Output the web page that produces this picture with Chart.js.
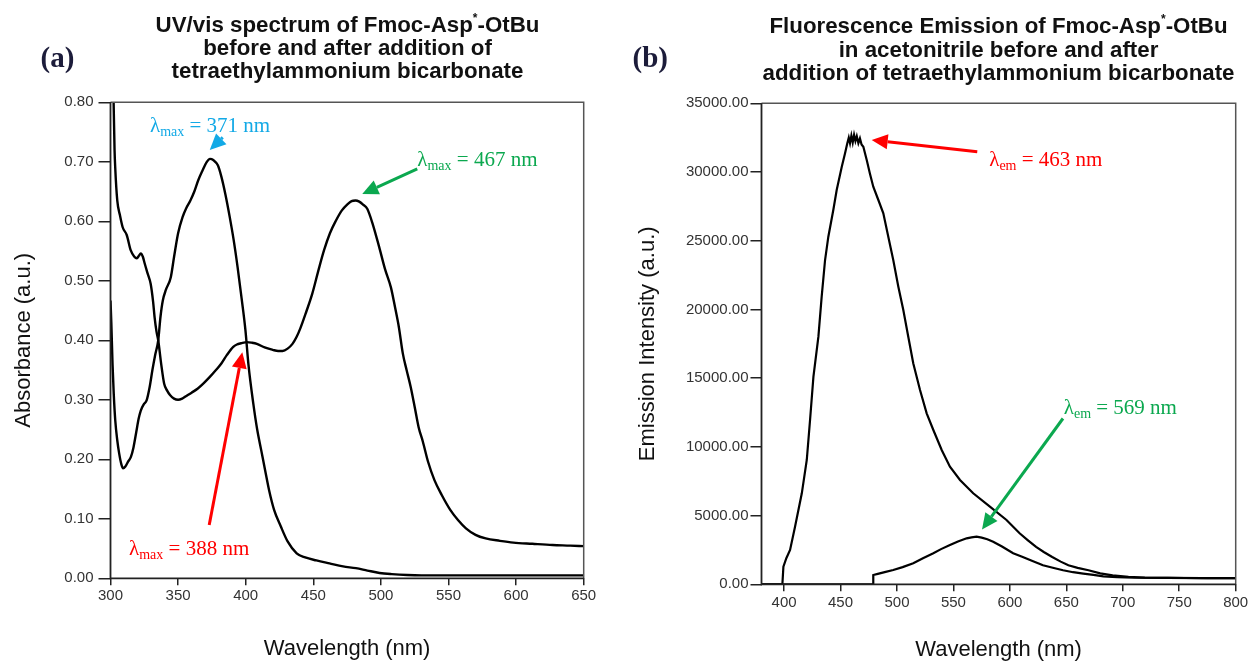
<!DOCTYPE html>
<html>
<head>
<meta charset="utf-8">
<script src="https://cdn.jsdelivr.net/npm/chart.js@4"></script>
<style>
  html, body { margin: 0; padding: 0; background: #fff; }
  body { width: 1252px; height: 663px; position: relative; overflow: hidden; }
  .panel { position: absolute; top: 0; height: 663px; }
  #panelA { left: 0; width: 620px; }
  #panelB { left: 620px; width: 632px; }
</style>
</head>
<body>
<div class="panel" id="panelA"><canvas id="uvChart"></canvas></div>
<div class="panel" id="panelB"><canvas id="flChart"></canvas></div>
<script>
// (a) UV/vis spectrum
const uvXTicks = [300, 350, 400, 450, 500, 550, 600, 650];
const uvYTicks = [0, 0.1, 0.2, 0.3, 0.4, 0.5, 0.6, 0.7, 0.8];

// before addition (peak ~371 nm)
const uvBeforeNm = [300, 300.6, 301.5, 302.4, 303.5, 305, 306.4, 308, 309.3, 311, 313, 315.1, 317, 319, 320.8, 322.4,
  324.5, 326.7, 329, 331, 333, 335.3, 337, 338.7, 341, 344.6, 347, 350, 353.3, 356, 359.1, 362, 364.9, 368, 371,
  373.6, 376, 379.4, 382, 385, 388.2, 391, 394, 397, 399.8, 402, 405.6, 408.5, 411.5, 414.5, 417.3, 421, 426, 431,
  437.7, 444, 452.3, 462, 472, 481.5, 490, 499, 508, 519.5, 530, 560, 600, 650];
const uvBeforeAbs = [0.467, 0.43, 0.36, 0.31, 0.266, 0.232, 0.21, 0.192, 0.185, 0.188, 0.196, 0.204, 0.22, 0.245, 0.268, 0.282,
  0.292, 0.299, 0.322, 0.35, 0.375, 0.40, 0.44, 0.467, 0.485, 0.506, 0.54, 0.58, 0.607, 0.622, 0.635, 0.65, 0.669, 0.685, 0.699,
  0.705, 0.703, 0.694, 0.675, 0.645, 0.607, 0.57, 0.523, 0.47, 0.417, 0.36, 0.294, 0.25, 0.215, 0.18, 0.148, 0.115, 0.087, 0.062,
  0.042, 0.035, 0.030, 0.025, 0.020, 0.017, 0.013, 0.009, 0.007, 0.0055, 0.005, 0.005, 0.005, 0.005];

// after addition (peaks ~388 and ~467 nm)
const uvAfterNm = [301.6, 302.3, 303, 303.5, 305, 307, 309, 312, 315, 317.5, 319.5, 321, 322.4, 324, 325.3, 327.5, 329.7,
  331.5, 332.6, 334, 335.3, 337.5, 339.7, 342, 344, 347, 350, 353, 355.8, 360, 364.6, 369, 373.3, 378, 382, 386, 390.8,
  393.5, 396.6, 401, 404.5, 408.3, 414, 420, 424, 427.3, 431, 434.6, 437.5, 440.4, 444.8, 449.2, 453.5, 457.9, 462.3,
  466.7, 471, 475.4, 478.3, 481.2, 484, 486.8, 489.9, 494, 498.7, 503, 507.4, 510.5, 513.3, 516.2, 519, 522, 525, 527.9,
  531, 535, 539.6, 545, 551.3, 557, 562.9, 570, 577.5, 588, 598, 612, 627, 640, 650];
const uvAfterAbs = [0.95, 0.80, 0.72, 0.69, 0.635, 0.61, 0.59, 0.577, 0.551, 0.541, 0.538, 0.542, 0.546, 0.54, 0.529, 0.512, 0.495,
  0.465, 0.439, 0.415, 0.40, 0.36, 0.327, 0.315, 0.308, 0.302, 0.300, 0.302, 0.306, 0.312, 0.319, 0.328, 0.338, 0.35, 0.361, 0.375, 0.389,
  0.393, 0.395, 0.397, 0.396, 0.394, 0.388, 0.384, 0.382, 0.382, 0.386, 0.394, 0.405, 0.42, 0.448, 0.478, 0.515, 0.551, 0.58,
  0.601, 0.618, 0.629, 0.634, 0.635, 0.633, 0.628, 0.621, 0.595, 0.557, 0.52, 0.489, 0.455, 0.422, 0.378, 0.35, 0.322, 0.288, 0.254,
  0.23, 0.195, 0.165, 0.14, 0.115, 0.098, 0.084, 0.073, 0.067, 0.063, 0.060, 0.058, 0.056, 0.055, 0.054];

// (b) fluorescence emission
const flXTicks = [400, 450, 500, 550, 600, 650, 700, 750, 800];
const flYTicks = [0, 5000, 10000, 15000, 20000, 25000, 30000, 35000];

// before addition (peak ~463 nm)
const flBeforeNm = [380, 398.5, 399.4, 402, 405.3, 409.7, 415.7, 420.1, 423, 426, 430.4, 433.3, 436.3, 439.2, 443.6, 446.6,
  451.1, 454, 456, 457.3, 458.4, 459.6, 460.8, 462, 463.2, 464.4, 465.8, 467.2, 468.6, 470.2, 473.2, 476, 479, 483.5,
  487.9, 492.3, 496.7, 501.2, 505.6, 510, 514.4, 520.4, 526.3, 532.2, 539.6, 546.9, 555.8, 567.5, 582.3, 597, 608.6, 616,
  623.2, 630, 637.5, 645, 651.8, 660, 669.6, 680, 691, 705, 719.5, 740, 755, 775, 800];
const flBeforeInt = [0, 0, 1282, 1900, 2496, 4190, 6620, 9045, 11955, 15106, 18017, 20927, 23597, 25293, 27235, 28691,
  30387, 31362, 32089, 32500, 32100, 32650, 32150, 32700, 32250, 32600, 32100, 32450, 32000, 31842, 30874, 29900, 28932, 27964,
  26996, 25293, 23597, 21657, 19960, 18017, 16081, 14138, 12443, 11228, 9772, 8557, 7590, 6622, 5647, 4679, 3711, 3200,
  2716, 2350, 1990, 1650, 1383, 1200, 1019, 800, 655, 550, 487, 470, 460, 455, 450];

// after addition (peak ~569 nm)
const flAfterNm = [380, 478.8, 479, 483, 490, 496.7, 505, 514.4, 523, 532.2, 539, 546.9, 554, 561.7, 566, 570.5, 575,
  580, 585.2, 593, 602.9, 611.4, 620, 629.3, 638, 647.1, 656, 665, 674, 682.8, 695, 710, 740, 770, 800];
const flAfterInt = [0, 0, 677, 760, 900, 1043, 1250, 1528, 1900, 2256, 2560, 2860, 3120, 3347, 3420, 3464, 3400,
  3280, 3100, 2750, 2256, 1990, 1700, 1383, 1200, 1019, 880, 779, 680, 582, 520, 480, 465, 455, 450];

const uvTitle = ['UV/vis spectrum of Fmoc-Asp*-OtBu', 'before and after addition of', 'tetraethylammonium bicarbonate'];
const flTitle = ['Fluorescence Emission of Fmoc-Asp*-OtBu', 'in acetonitrile before and after', 'addition of tetraethylammonium bicarbonate'];

// annotations, anchored in data units
const uvNotes = [
  { color: '#12A9E6', sub: 'max', text: ' = 371 nm', at: [329.2, 0.7497], from: [383.0, 0.741], to: [373.4, 0.720] },
  { color: '#0BA84F', sub: 'max', text: ' = 467 nm', at: [526.9, 0.6937], from: [526.9, 0.688], to: [486.2, 0.646] },
  { color: '#FF0000', sub: 'max', text: ' = 388 nm', at: [313.7, 0.0391], from: [373.0, 0.0895], to: [397.5, 0.380] },
];
const flNotes = [
  { color: '#FF0000', sub: 'em', text: ' = 463 nm', at: [581.7, 30457], from: [571.1, 31477], to: [477.6, 32330] },
  { color: '#0BA84F', sub: 'em', text: ' = 569 nm', at: [647.7, 12378], from: [647.0, 12065], to: [575.3, 3983] },
];

const SANS = "'Liberation Sans', Arial, sans-serif";
const SERIF = "'Liberation Serif', 'Times New Roman', serif";

const pts = (xs, ys) => xs.map((x, i) => ({ x, y: ys[i] }));

function drawRuns(ctx, runs, x, y, center) {
  let w = 0;
  runs.forEach(r => { ctx.font = r.font; r.w = ctx.measureText(r.text).width; w += r.w; });
  let cx = center ? x - w / 2 : x;
  runs.forEach(r => { ctx.font = r.font; ctx.fillText(r.text, cx, y + (r.dy || 0)); cx += r.w; });
}

// frame around the plot area
const frame = {
  id: 'frame',
  afterDatasetsDraw(chart) {
    const { ctx, chartArea: a } = chart;
    ctx.save();
    ctx.lineWidth = 1.5;
    ctx.strokeStyle = '#555';
    ctx.beginPath();
    ctx.moveTo(a.left, a.top); ctx.lineTo(a.right, a.top); ctx.lineTo(a.right, a.bottom);
    ctx.stroke();
    ctx.lineWidth = 1.8;
    ctx.strokeStyle = '#222';
    ctx.beginPath();
    ctx.moveTo(a.left, a.top); ctx.lineTo(a.left, a.bottom); ctx.lineTo(a.right, a.bottom);
    ctx.stroke();
    ctx.restore();
  }
};

function makeHeading(lines, cx, baselines, label, labelX, labelY) {
  return {
    id: 'heading',
    afterDraw(chart) {
      const ctx = chart.ctx;
      ctx.save();
      ctx.fillStyle = '#111';
      ctx.textBaseline = 'alphabetic';
      lines.forEach((line, i) => {
        const parts = line.split('*');
        const runs = [{ text: parts[0], font: 'bold 22.3px ' + SANS }];
        if (parts.length > 1) {
          runs.push({ text: '*', font: 'bold 12px ' + SANS, dy: -10 });
          runs.push({ text: parts[1], font: 'bold 22.3px ' + SANS });
        }
        drawRuns(ctx, runs, cx, baselines[i], true);
      });
      ctx.fillStyle = '#1c1c3a';
      ctx.font = 'bold 29px ' + SERIF;
      ctx.fillText(label, labelX, labelY);
      ctx.restore();
    }
  };
}

function makeNotes(items) {
  return {
    id: 'notes',
    afterDraw(chart) {
      const { ctx, scales: { x, y } } = chart;
      items.forEach(n => {
        ctx.save();
        ctx.fillStyle = n.color;
        ctx.strokeStyle = n.color;
        const x0 = x.getPixelForValue(n.from[0]), y0 = y.getPixelForValue(n.from[1]);
        const x1 = x.getPixelForValue(n.to[0]), y1 = y.getPixelForValue(n.to[1]);
        const ang = Math.atan2(y1 - y0, x1 - x0);
        const head = 16, half = 7.5;
        const bx = x1 - head * Math.cos(ang), by = y1 - head * Math.sin(ang);
        const len = Math.hypot(x1 - x0, y1 - y0);
        if (len > head) {
          ctx.lineWidth = 3;
          ctx.beginPath(); ctx.moveTo(x0, y0); ctx.lineTo(bx, by); ctx.stroke();
        }
        ctx.beginPath();
        ctx.moveTo(x1, y1);
        ctx.lineTo(bx + half * Math.sin(ang), by - half * Math.cos(ang));
        ctx.lineTo(bx - half * Math.sin(ang), by + half * Math.cos(ang));
        ctx.closePath(); ctx.fill();
        ctx.textBaseline = 'alphabetic';
        drawRuns(ctx, [
          { text: 'λ', font: '21px ' + SERIF },
          { text: n.sub, font: '14px ' + SERIF, dy: 4 },
          { text: n.text, font: '21px ' + SERIF },
        ], x.getPixelForValue(n.at[0]), y.getPixelForValue(n.at[1]), false);
        ctx.restore();
      });
    }
  };
}

function xAxis(min, max, ticks, height, tickPad, titlePad) {
  return {
    type: 'linear', min, max,
    afterBuildTicks: s => { s.ticks = ticks.map(v => ({ value: v })); },
    afterFit: s => { s.height = height; },
    grid: { drawOnChartArea: false, drawTicks: true, tickLength: 7, color: '#222', lineWidth: 1.5 },
    border: { display: false },
    ticks: { color: '#333', font: { family: SANS, size: 15 }, padding: tickPad, maxRotation: 0, autoSkip: false, callback: v => String(v) },
    title: { display: true, text: 'Wavelength (nm)', color: '#111', font: { family: SANS, size: 22 }, padding: { top: 0, bottom: titlePad } }
  };
}

function yAxis(min, max, ticks, width, tickLen, tickPad, label, titlePad) {
  return {
    type: 'linear', min, max,
    afterBuildTicks: s => { s.ticks = ticks.map(v => ({ value: v })); },
    afterFit: s => { s.width = width; },
    grid: { drawOnChartArea: false, drawTicks: true, tickLength: tickLen, color: '#222', lineWidth: 1.5 },
    border: { display: false },
    ticks: { color: '#333', font: { family: SANS, size: 15 }, padding: tickPad, autoSkip: false, callback: v => v.toFixed(2) },
    title: { display: true, text: label, color: '#111', font: { family: SANS, size: 22 }, padding: { top: titlePad, bottom: 0 } }
  };
}

const lineStyle = { borderColor: '#000', borderWidth: 2.4, pointRadius: 0, fill: false };

new Chart(document.getElementById('uvChart'), {
  type: 'line',
  data: {
    datasets: [
      { ...lineStyle, data: pts(uvBeforeNm, uvBeforeAbs), cubicInterpolationMode: 'monotone' },
      { ...lineStyle, data: pts(uvAfterNm, uvAfterAbs), cubicInterpolationMode: 'monotone' },
    ]
  },
  options: {
    responsive: true, maintainAspectRatio: false, animation: false,
    layout: { padding: { left: 0, top: 102.3, right: 36.3, bottom: 0 } },
    plugins: { legend: { display: false }, tooltip: { enabled: false } },
    scales: {
      x: xAxis(300, 650, uvXTicks, 663 - 578.3, 2, 1),
      y: yAxis(0, 0.8, uvYTicks, 110.5, 12, 5, 'Absorbance (a.u.)', 10.5),
    }
  },
  plugins: [frame, makeHeading(uvTitle, 347.5, [31.7, 55, 77.5], '(a)', 40.5, 66.5), makeNotes(uvNotes)]
});

new Chart(document.getElementById('flChart'), {
  type: 'line',
  data: {
    datasets: [
      { ...lineStyle, borderWidth: 2.2, data: pts(flBeforeNm, flBeforeInt), tension: 0 },
      { ...lineStyle, borderWidth: 2.2, data: pts(flAfterNm, flAfterInt), tension: 0 },
    ]
  },
  options: {
    responsive: true, maintainAspectRatio: false, animation: false,
    layout: { padding: { left: 0, top: 103.3, right: 16.3, bottom: 0 } },
    plugins: { legend: { display: false }, tooltip: { enabled: false } },
    scales: {
      x: xAxis(380, 800, flXTicks, 663 - 584.3, 3, 0),
      y: yAxis(0, 35000, flYTicks, 141.5, 11, 2, 'Emission Intensity (a.u.)', 14.6),
    }
  },
  plugins: [frame, makeHeading(flTitle, 378.5, [33.3, 56.5, 79.5], '(b)', 12.5, 66.5), makeNotes(flNotes)]
});
</script>
</body>
</html>
